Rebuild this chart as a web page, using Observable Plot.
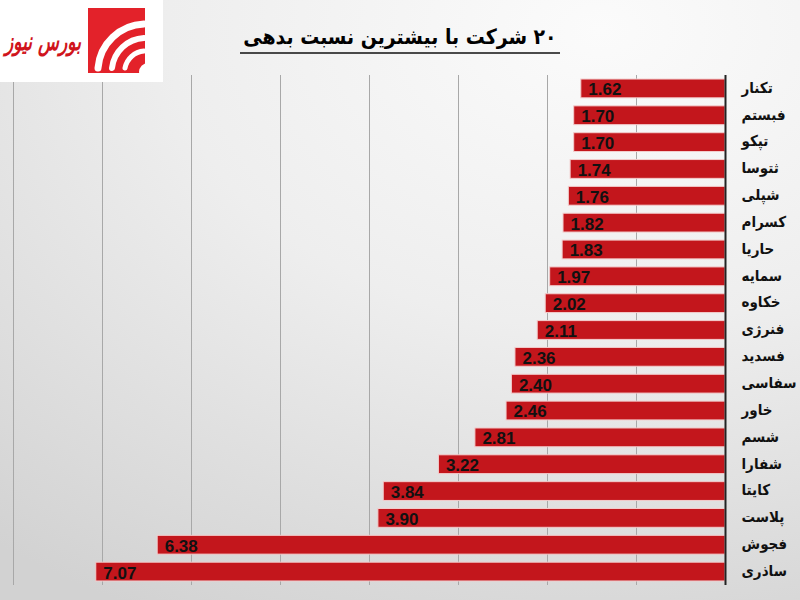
<!DOCTYPE html>
<html>
<head>
<meta charset="utf-8">
<script src="https://cdn.jsdelivr.net/npm/d3@7"></script>
<script src="https://cdn.jsdelivr.net/npm/@observablehq/plot@0.6"></script>
<style>
  html, body { margin:0; padding:0; }
  body { width:800px; height:600px; overflow:hidden; position:relative;
    background: radial-gradient(ellipse 120% 110% at 75% 5%, #fbfbfb 0%, #eeeeee 45%, #d2d2d2 100%); }
  #chart { position:absolute; left:0; top:0; }
  #overlay { position:absolute; left:0; top:0; }
</style>
</head>
<body>
<div id="chart"></div>
<svg id="overlay" width="800" height="90"></svg>
<script>
const companies = ["تکنار","فبستم","تپکو","ثتوسا","شپلی","کسرام","حاریا","سمایه","خکاوه","فنرژی","فسدید","سفاسی","خاور","شسم","شفارا","کایتا","پلاست","فجوش","ساذری"];
const values = [1.62,1.70,1.70,1.74,1.76,1.82,1.83,1.97,2.02,2.11,2.36,2.40,2.46,2.81,3.22,3.84,3.90,6.38,7.07];
const gridTicks = [1,2,3,4,5,6,7,8];
const title = "۲۰ شرکت با بیشترین نسبت بدهی";
const logoText = "بورس نیوز";

const data = companies.map((c, i) => ({company: c, value: values[i]}));

const chart = Plot.plot({
  width: 800, height: 600,
  marginTop: 75, marginBottom: 15, marginLeft: 13, marginRight: 75,
  style: {background: "transparent", overflow: "visible", fontFamily: "Liberation Sans, Arial, sans-serif"},
  x: {domain: [0, 8], reverse: true, axis: null},
  y: {domain: companies, axis: null, paddingInner: 0.3, paddingOuter: 0.15, round: false},
  marks: [
    Plot.ruleX(gridTicks, {stroke: "#a8a8a8", strokeWidth: 1}),
    Plot.barX(data, {x: "value", y: "company", fill: "#C3161C", stroke: "#f3cccc", strokeWidth: 1}),
    Plot.text(data, {x: "value", y: "company", text: d => d.value.toFixed(2), textAnchor: "start", dx: 7, dy: 1,
      fontWeight: "bold", fontSize: 17, fill: "#111", fontFamily: "Liberation Sans, Arial, sans-serif"}),
    Plot.ruleX([0], {stroke: "#222", strokeWidth: 2}),
    Plot.text(data, {x: () => 0, y: "company", text: "company", textAnchor: "start", dx: 16, dy: -1,
      fontWeight: "bold", fontSize: 15, fill: "#111", fontFamily: "DejaVu Sans Condensed, DejaVu Sans, sans-serif",
      fontStretch: "condensed"})
  ]
});
document.getElementById("chart").appendChild(chart);

// overlay: logo + title
const ov = d3.select("#overlay");
ov.append("rect").attr("x", 0).attr("y", 0).attr("width", 163).attr("height", 82).attr("fill", "#fff");
ov.append("rect").attr("x", 88).attr("y", 8).attr("width", 57).attr("height", 65).attr("fill", "#E3222A");
// white crescents in the logo
const cx = 148, cy = 72;
[[48, 7], [34, 6], [21, 5]].forEach(([r, w]) => {
  ov.append("path")
    .attr("d", `M ${cx - r - 2} ${cy - 4} A ${r} ${r} 0 0 1 ${cx - 4} ${cy - r}`)
    .attr("fill", "none").attr("stroke", "#fff").attr("stroke-width", w).attr("stroke-linecap", "round");
});
ov.append("circle").attr("cx", cx).attr("cy", cy).attr("r", 9).attr("fill", "#fff");
ov.append("text").attr("x", 5).attr("y", 50).attr("text-anchor", "start")
  .attr("font-family", "DejaVu Sans, sans-serif").attr("font-weight", "bold").attr("font-style", "italic")
  .attr("font-size", 25).attr("fill", "#D0141C")
  .attr("textLength", 76).attr("lengthAdjust", "spacingAndGlyphs").text(logoText);

ov.append("text").attr("x", 400).attr("y", 44).attr("text-anchor", "middle").attr("direction", "rtl")
  .attr("font-family", "DejaVu Sans Condensed, DejaVu Sans, sans-serif").attr("font-weight", "bold")
  .attr("font-stretch", "condensed")
  .attr("font-size", 21).attr("fill", "#000").text(title);
ov.append("line").attr("x1", 240).attr("x2", 560).attr("y1", 53).attr("y2", 53)
  .attr("stroke", "#111").attr("stroke-width", 1.5);
</script>
</body>
</html>
